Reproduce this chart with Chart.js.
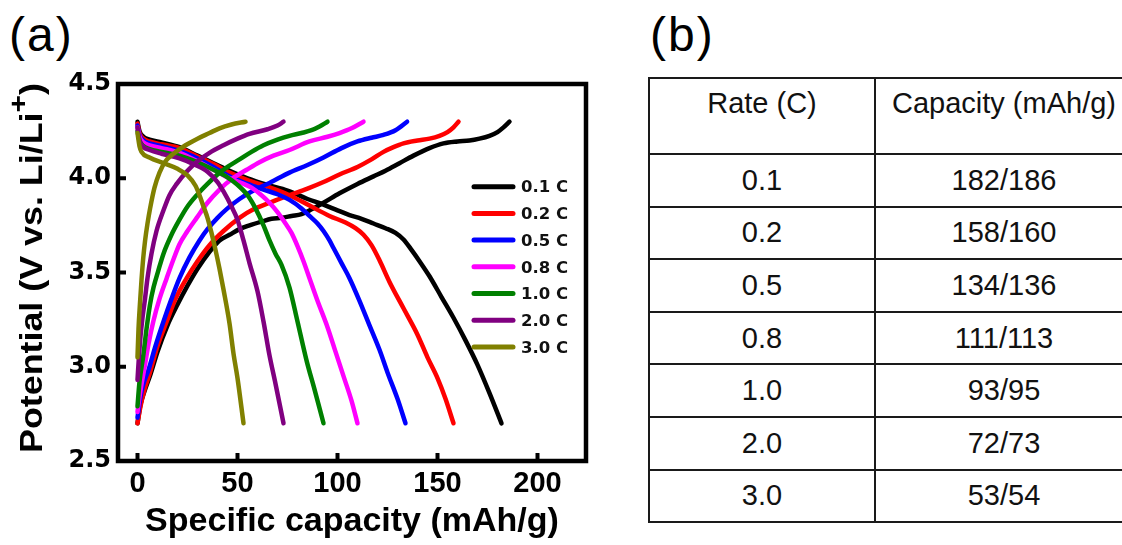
<!DOCTYPE html>
<html>
<head>
<meta charset="utf-8">
<script src="https://cdn.jsdelivr.net/npm/chart.js@4.4.1/dist/chart.umd.min.js"></script>
<style>
  html, body { margin: 0; padding: 0; background: #fff; width: 1122px; height: 545px; overflow: hidden; }
  body { position: relative; font-family: 'Liberation Sans', Arial, sans-serif; }
  #wrap { position: absolute; left: 0; top: 0; width: 600px; height: 545px; }
  .panel { position: absolute; top: 11px; font-size: 48px; line-height: 1; color: #000; letter-spacing: 2px; }
  #capTable { position: absolute; left: 648px; top: 77px; border-collapse: collapse; table-layout: fixed; width: 484px; }
  #capTable td { border: 2px solid #1a1a1a; text-align: center; font-size: 29px; color: #111; padding: 0; }
  #capTable tr.head td { height: 66px; vertical-align: top; padding-top: 8px; }
  #capTable tr.row td { height: 50.6px; }
</style>
</head>
<body>
<div class="panel" style="left:9px">(a)</div>
<div class="panel" style="left:650px">(b)</div>
<div id="wrap"><canvas id="rateChart" width="600" height="545"></canvas></div>
<table id="capTable">
  <colgroup><col style="width:226px"><col style="width:258px"></colgroup>
  <tbody id="capBody"></tbody>
</table>
<script>
// rate labels and table values
const rates = ['0.1 C', '0.2 C', '0.5 C', '0.8 C', '1.0 C', '2.0 C', '3.0 C'];
const tableRates = ['0.1', '0.2', '0.5', '0.8', '1.0', '2.0', '3.0'];
const dischargeCap = [182, 158, 134, 111, 93, 72, 53];
const chargeCap = [186, 160, 136, 113, 95, 73, 54];
const colors = ['#000000', '#ff0000', '#0000ff', '#ff00ff', '#008000', '#800080', '#808000'];

// charge curves [capacity, voltage]
const charge01 = [[0,2.70],[1.5,2.80],[3.5,2.87],[6.5,2.96],[10,3.08],[15,3.22],[20,3.33],[25,3.43],[30,3.52],[36,3.61],[41,3.67],[46,3.70],[51,3.73],[56,3.75],[62,3.77],[67,3.785],[72,3.79],[77,3.80],[82,3.81],[87,3.835],[93,3.87],[101,3.92],[110,3.97],[118,4.01],[124,4.04],[131,4.08],[138,4.12],[146,4.16],[153,4.185],[160,4.195],[166,4.20],[171,4.21],[176,4.225],[180,4.245],[183,4.27],[186,4.30]];
const charge02 = [[0,2.70],[1.5,2.79],[3.5,2.88],[6.25,2.97],[10,3.11],[14.6,3.24],[19,3.36],[24.6,3.47],[30,3.56],[36,3.645],[43,3.72],[51,3.79],[58,3.835],[66,3.87],[76,3.91],[85,3.945],[93,3.98],[101,4.02],[110,4.06],[117,4.10],[123,4.14],[128,4.165],[133,4.185],[140,4.20],[146,4.21],[151,4.225],[155,4.245],[158,4.27],[160.5,4.30]];
const charge05 = [[0,2.73],[1.5,2.84],[3,2.91],[5.4,2.98],[9,3.11],[13,3.24],[17,3.36],[21,3.47],[26,3.58],[31,3.67],[35,3.73],[40,3.79],[45,3.84],[51,3.89],[58,3.935],[66,3.975],[76,4.03],[85,4.07],[93,4.11],[102,4.16],[110,4.195],[117,4.215],[123,4.23],[129,4.255],[134.8,4.30]];
const charge08 = [[0,2.76],[1,2.84],[2.2,2.92],[3.75,3.01],[5.5,3.12],[7.9,3.24],[11,3.36],[14.6,3.47],[18,3.57],[21,3.65],[25,3.72],[29.6,3.79],[35,3.87],[41,3.94],[47,3.995],[54.6,4.045],[61,4.085],[68,4.12],[76,4.15],[86,4.195],[95,4.22],[101,4.24],[107,4.265],[113,4.30]];
const charge10 = [[0,2.79],[1,2.92],[2.9,3.06],[4.5,3.20],[6.25,3.33],[8,3.42],[10.4,3.51],[13,3.60],[17,3.70],[21,3.78],[25,3.85],[29.6,3.91],[35,3.97],[40,4.02],[45,4.06],[51,4.10],[57,4.14],[63,4.175],[70,4.205],[76,4.225],[82,4.24],[87,4.255],[91,4.275],[95,4.30]];
const charge20 = [[0,2.93],[0.7,3.05],[1.5,3.16],[2.5,3.26],[3.75,3.36],[5,3.47],[7,3.60],[9.5,3.72],[13,3.83],[16,3.91],[19.6,3.97],[25,4.04],[30,4.09],[36,4.135],[43,4.175],[50,4.21],[56,4.235],[65,4.26],[70,4.28],[73,4.30]];
const charge30 = [[0,3.05],[0.5,3.20],[1.2,3.33],[2,3.46],[2.9,3.58],[3.8,3.67],[5,3.76],[6.3,3.84],[8.5,3.95],[11,4.03],[14,4.09],[18,4.13],[24,4.175],[30,4.21],[36,4.24],[41,4.265],[47,4.285],[54,4.30]];

// discharge curves [capacity, voltage]
const discharge01 = [[0,4.30],[1,4.25],[3,4.22],[6,4.205],[12,4.19],[21,4.165],[30,4.12],[38,4.08],[46,4.04],[55,4.00],[65,3.965],[75,3.935],[85,3.89],[93,3.86],[100,3.83],[106,3.805],[112,3.785],[118,3.76],[124,3.735],[129,3.71],[133,3.675],[137,3.62],[141,3.56],[146,3.48],[152,3.37],[158,3.26],[164,3.14],[170,3.01],[176,2.86],[182,2.70]];
const discharge02 = [[0,4.29],[1,4.24],[3,4.21],[6,4.195],[12,4.18],[21,4.16],[30,4.115],[38,4.075],[46,4.03],[55,3.99],[65,3.955],[76,3.91],[86,3.855],[96,3.80],[104,3.765],[109,3.735],[113,3.70],[117,3.645],[121,3.565],[126,3.45],[133,3.31],[140,3.17],[145,3.05],[150,2.94],[154,2.83],[158,2.70]];
const discharge05 = [[0,4.28],[1,4.23],[3,4.20],[6,4.185],[12,4.17],[21,4.145],[30,4.105],[38,4.06],[46,4.01],[55,3.97],[63,3.94],[70,3.915],[76,3.885],[82,3.84],[86,3.80],[90,3.76],[93,3.72],[96,3.67],[98,3.63],[102,3.55],[106,3.47],[111,3.35],[116,3.22],[121,3.09],[125,2.97],[130,2.83],[134,2.70]];
const discharge08 = [[0,4.27],[1,4.22],[3,4.19],[6,4.175],[12,4.16],[21,4.135],[30,4.09],[38,4.045],[46,4.00],[52,3.975],[57,3.95],[62,3.91],[66,3.87],[70,3.82],[74,3.76],[77,3.71],[80,3.64],[83,3.56],[86,3.47],[90,3.35],[95,3.21],[99,3.08],[103,2.95],[107,2.82],[110,2.70]];
const discharge10 = [[0,4.25],[1,4.20],[3,4.17],[6,4.155],[12,4.14],[21,4.12],[30,4.085],[38,4.045],[45,4.005],[50,3.965],[55,3.91],[59,3.84],[63,3.75],[66,3.67],[69,3.60],[72,3.54],[76,3.42],[80,3.24],[84.6,3.03],[88.5,2.88],[93,2.70]];
const discharge20 = [[0,4.27],[1,4.20],[3,4.165],[6,4.15],[12,4.13],[21,4.105],[28,4.075],[35,4.035],[40,3.98],[43,3.93],[47,3.85],[50,3.78],[53,3.67],[56,3.55],[60,3.40],[63,3.24],[66,3.06],[69,2.91],[73,2.70]];
const discharge30 = [[0,4.24],[1,4.17],[2,4.14],[6,4.11],[13,4.08],[20,4.05],[25,4.015],[29,3.96],[31,3.91],[33,3.85],[35,3.79],[37,3.71],[39,3.62],[41,3.52],[43,3.41],[46,3.23],[48,3.07],[50,2.94],[53,2.70]];

const chargeCurves = [charge01, charge02, charge05, charge08, charge10, charge20, charge30];
const dischargeCurves = [discharge01, discharge02, discharge05, discharge08, discharge10, discharge20, discharge30];

const yTitleMain = 'Potential (V vs. Li/Li';
const yTitleSup = '+';
const yTitleEnd = ')';

// table
const body = document.getElementById('capBody');
let html = '<tr class="head"><td>Rate (C)</td><td>Capacity (mAh/g)</td></tr>';
tableRates.forEach((r, i) => {
  html += '<tr class="row"><td>' + r + '</td><td>' + dischargeCap[i] + '/' + chargeCap[i] + '</td></tr>';
});
body.innerHTML = html;

const toXY = pts => pts.map(p => ({ x: p[0], y: p[1] }));

const datasets = [];
rates.forEach((r, i) => {
  datasets.push({ label: r, inLegend: true, data: toXY(chargeCurves[i]), borderColor: colors[i], order: rates.length - i });
  datasets.push({ label: r, inLegend: false, data: toXY(dischargeCurves[i]), borderColor: colors[i], order: rates.length - i });
});

const framePlugin = {
  id: 'frame',
  afterDraw(chart) {
    const { ctx, chartArea: a, scales: { x, y } } = chart;
    ctx.save();
    ctx.strokeStyle = '#000';
    ctx.lineWidth = 4.5;
    ctx.strokeRect(a.left, a.top, a.right - a.left, a.bottom - a.top);
    // inward tick marks
    ctx.lineWidth = 4;
    x.ticks.forEach(t => {
      const px = x.getPixelForValue(t.value);
      ctx.beginPath(); ctx.moveTo(px, a.bottom); ctx.lineTo(px, a.bottom - 8); ctx.stroke();
    });
    y.ticks.forEach(t => {
      const py = y.getPixelForValue(t.value);
      ctx.beginPath(); ctx.moveTo(a.left, py); ctx.lineTo(a.left + 8, py); ctx.stroke();
    });

    // legend
    const items = chart.data.datasets.filter(d => d.inLegend);
    ctx.font = "bold 16.5px 'DejaVu Sans', sans-serif";
    ctx.textBaseline = 'middle';
    ctx.textAlign = 'left';
    items.forEach((d, i) => {
      const ly = 186.7 + i * 26.7;
      ctx.strokeStyle = d.borderColor;
      ctx.lineWidth = 5;
      ctx.lineCap = 'round';
      ctx.beginPath(); ctx.moveTo(474, ly); ctx.lineTo(513, ly); ctx.stroke();
      ctx.fillStyle = '#111';
      ctx.fillText(d.label, 521, ly + 1.5);
    });

    // y axis title with superscript
    const big = "bold 31px 'Liberation Sans', Arial, sans-serif";
    const small = "bold 26px 'Liberation Sans', Arial, sans-serif";
    ctx.font = big;
    const w1 = ctx.measureText(yTitleMain).width;
    const w3 = ctx.measureText(yTitleEnd).width;
    ctx.font = small;
    const w2 = ctx.measureText(yTitleSup).width;
    const total = w1 + w2 + w3;
    ctx.translate(42, 268);
    ctx.rotate(-Math.PI / 2);
    ctx.scale(370 / total, 1);
    ctx.fillStyle = '#000';
    ctx.textBaseline = 'alphabetic';
    let x0 = -total / 2;
    ctx.font = big; ctx.fillText(yTitleMain, x0, 0); x0 += w1;
    ctx.font = small; ctx.fillText(yTitleSup, x0, -15); x0 += w2;
    ctx.font = big; ctx.fillText(yTitleEnd, x0, 0);
    ctx.restore();
  }
};

new Chart(document.getElementById('rateChart'), {
  type: 'line',
  data: { datasets: datasets },
  options: {
    responsive: false,
    animation: false,
    layout: { padding: { left: 0, top: 84, right: 14, bottom: 0 } },
    elements: {
      point: { radius: 0 },
      line: { borderWidth: 4.5, cubicInterpolationMode: 'monotone', borderCapStyle: 'round', borderJoinStyle: 'round' }
    },
    plugins: { legend: { display: false }, tooltip: { enabled: false } },
    scales: {
      x: {
        type: 'linear',
        min: -9.75,
        max: 224.25,
        grid: { display: false, drawTicks: false },
        border: { display: false },
        ticks: {
          stepSize: 50,
          includeBounds: false,
          padding: 6,
          color: '#000',
          font: { family: "'Liberation Sans', Arial, sans-serif", weight: 'bold', size: 29 }
        },
        title: {
          display: true,
          text: 'Specific capacity (mAh/g)',
          color: '#000',
          padding: { top: 0, bottom: 3 },
          font: { family: "'Liberation Sans', Arial, sans-serif", weight: 'bold', size: 34 }
        },
        afterFit(scale) { scale.height = 84; }
      },
      y: {
        min: 2.5,
        max: 4.5,
        grid: { display: false, drawTicks: false },
        border: { display: false },
        ticks: {
          stepSize: 0.5,
          padding: 7,
          color: '#000',
          font: { family: "'DejaVu Sans', sans-serif", weight: 'bold', size: 24 },
          callback: v => v.toFixed(1)
        },
        afterFit(scale) { scale.width = 118; }
      }
    }
  },
  plugins: [framePlugin]
});
</script>
</body>
</html>
